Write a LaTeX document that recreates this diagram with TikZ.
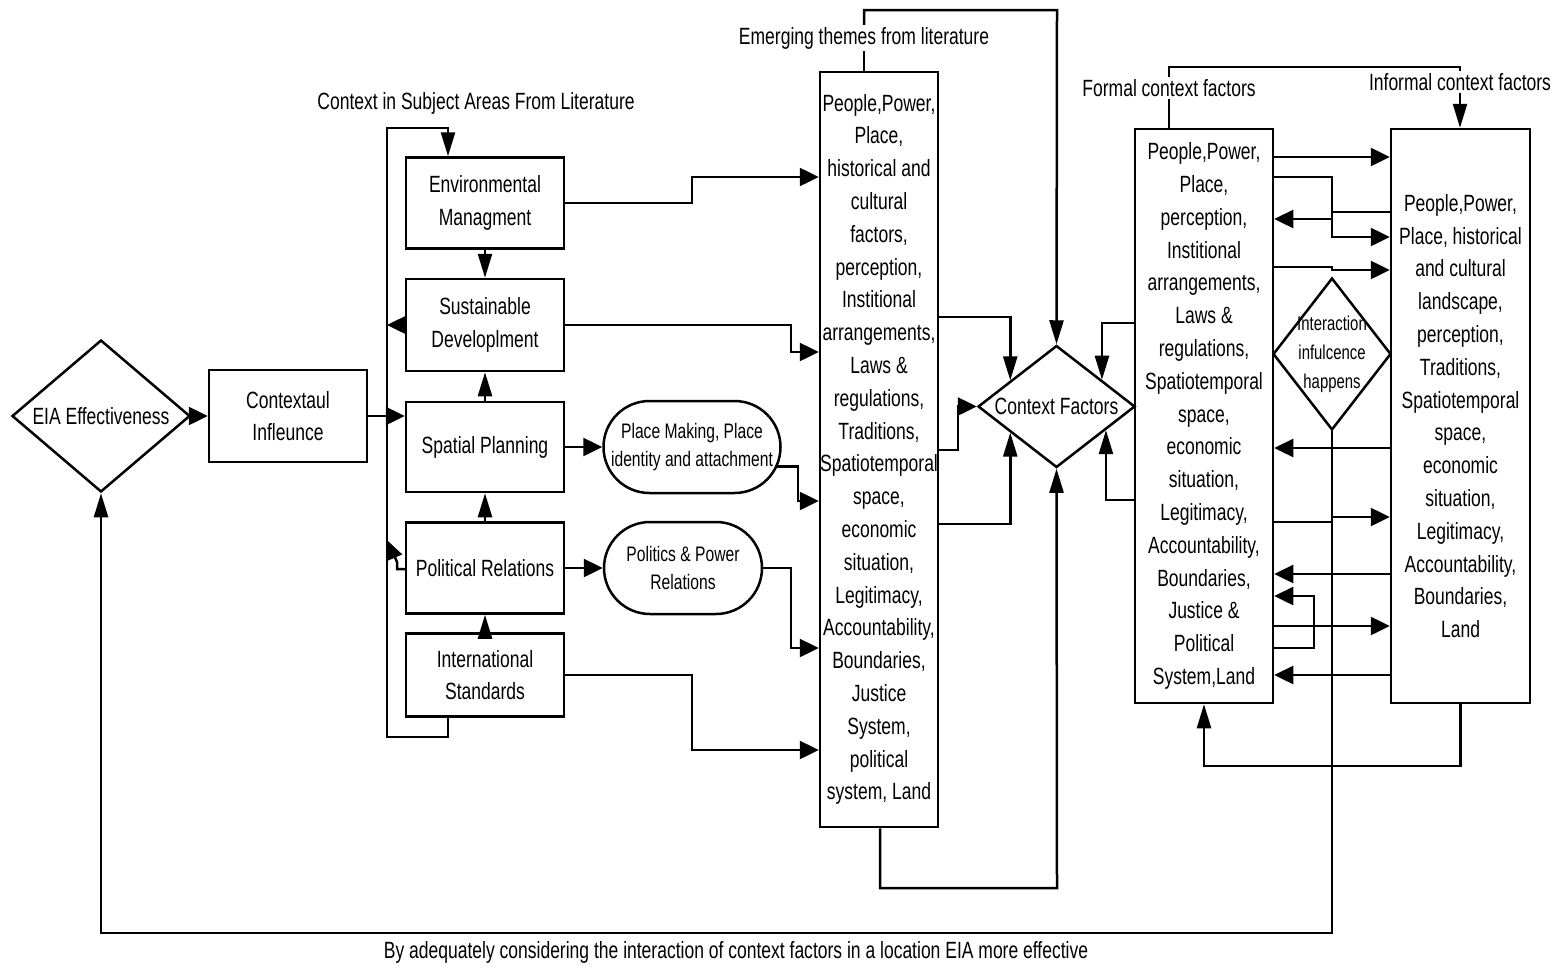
\documentclass[tikz,border=0pt]{standalone}
\usepackage{fontspec}
\setmainfont{Liberation Sans}[FakeStretch=0.745]
\usetikzlibrary{arrows.meta,shapes.geometric,shapes.misc,calc}
\newcommand\fmain{\fontsize{23.5pt}{32.8pt}\selectfont}
\newcommand\fsmall{\fontsize{21pt}{28pt}\selectfont}
\newcommand\fint{\fontsize{20pt}{29pt}\selectfont}
\begin{document}
\begin{tikzpicture}[x=1pt,y=-1pt,
  every node/.style={font=\fmain},
  box/.style={draw,line width=2.5pt,align=center,inner xsep=0pt,inner ysep=2pt},
  pill/.style={draw,line width=2.5pt,rounded rectangle,inner sep=0pt},
  dia/.style={draw,line width=2.5pt,diamond,inner sep=0pt},
  txt/.style={align=center,inner sep=1pt},
  lbl/.style={fill=white,inner sep=2pt},
  ln/.style={line width=2.5pt},
  ah/.style={line width=2.5pt,-{Triangle[length=19pt,width=18pt]}},
  av/.style={line width=2.5pt,-{Triangle[length=24pt,width=14pt]}},
  ad/.style={line width=2.5pt,-{Triangle[length=18pt,width=15pt]}}]
\useasboundingbox (0,0) rectangle (1562,969);
\fill[white] (0,0) rectangle (1562,969);

% ---- left part
\node[dia,minimum width=178pt,minimum height=152pt,label={[txt]center:EIA Effectiveness}] (eia) at (101,416) {};
\node[box,minimum width=158pt,minimum height=92pt] (ctx) at (288,416) {Contextaul\\Infleunce};
\node[box,minimum width=158pt,minimum height=91pt] (em) at (485,203) {Environmental\\Managment};
\node[box,minimum width=158pt,minimum height=92pt] (sd) at (485,325) {Sustainable\\Developlment};
\node[box,minimum width=158pt,minimum height=90pt] (sp) at (485,447) {Spatial Planning};
\node[box,minimum width=158pt,minimum height=91pt] (pr) at (485,568) {Political Relations};
\node[box,minimum width=158pt,minimum height=83pt] (is) at (485,675) {International\\Standards};
\node[pill,minimum width=177pt,minimum height=92pt,label={[txt,font=\fsmall]center:Place Making, Place\\identity and attachment}] (pm) at (692,447) {};
\node[pill,minimum width=158pt,minimum height=92pt,label={[txt,font=\fsmall]center:Politics \& Power\\Relations}] (pp) at (683,568) {};

\node[txt] (t1) at (476,103) {Context in Subject Areas From Literature};
\node[lbl] (t2) at (864,38) {Emerging themes from literature};

% ---- themes box
\node[box,minimum width=118pt,minimum height=755pt] (th) at (879,449.5) {People,Power,\\Place,\\historical and\\cultural\\factors,\\perception,\\Institional\\arrangements,\\Laws \&\\regulations,\\Traditions,\\Spatiotemporal\\space,\\economic\\situation,\\Legitimacy,\\Accountability,\\Boundaries,\\Justice\\System,\\political\\system, Land};

\node[dia,minimum width=157pt,minimum height=122pt,label={[txt]center:Context Factors}] (cf) at (1056.5,406.5) {};

% ---- formal / informal
\node[box,minimum width=138pt,minimum height=574pt] (fo) at (1204,416) {People,Power,\\Place,\\perception,\\Institional\\arrangements,\\Laws \&\\regulations,\\Spatiotemporal\\space,\\economic\\situation,\\Legitimacy,\\Accountability,\\Boundaries,\\Justice \&\\Political\\System,Land};
\node[box,minimum width=139pt,minimum height=574pt] (inf) at (1460.5,416) {People,Power,\\Place, historical\\and cultural\\landscape,\\perception,\\Traditions,\\Spatiotemporal\\space,\\economic\\situation,\\Legitimacy,\\Accountability,\\Boundaries,\\Land};
\node[dia,minimum width=118pt,minimum height=152pt,label={[txt,font=\fint]center:Interaction\\infulcence\\happens}] (ia) at (1332,354) {};

\node[lbl] (t3) at (1169,88) {Formal context factors};
\node[lbl] (t4) at (1460,82) {Informal context factors};
\node[txt] (t5) at (736,952) {By adequately considering the interaction of context factors in a location EIA more effective};

% ---- left connectors
\draw[ah] (eia.east) -- (ctx.west);
\draw[ah] (ctx.east) -- (sp.west |- ctx.east);
\draw[av] (is.south -| 448,0) |- (387,737) |- (448,128) -- (em.north -| 448,0);
\draw[ah] (sd.west) -- (sd.west -| 387,0);
\draw[ad] (pr.west |- 0,569) -- (397,569) -- (397,562) -- (388,541);
\draw[av] (em.south) -- (sd.north);
\draw[av] (sp.north) -- (sd.south);
\draw[av] (pr.north) -- (sp.south);
\draw[av] (is.north) -- (pr.south);
\draw[ah] (sp.east) -- (pm.west);
\draw[ah] (pr.east) -- (pp.west);

% ---- into themes box
\draw[ah] (em.east) -| (692,177) -- (th.west |- 0,177);
\draw[ah] (sd.east) -| (791,352) -- (th.west |- 0,352);
\draw[ah] (pm.-13) -| (798,501) -- (th.west |- 0,501);
\draw[ah] (pp.east) -| (791,648) -- (th.west |- 0,648);
\draw[ah] (is.east) -| (692,750) -- (th.west |- 0,750);

% ---- themes to context factors
\draw[ln] (th.north -| t2) -- (t2.south);
\draw[av] (t2.north) |- (1057,10) -- (cf.north);
\draw[av] (th.south -| 880,0) |- (1057,888) -- (cf.south);
\draw[av] (th.east |- 0,317) -| ($(cf.west)!0.42!(cf.north)$);
\draw[av] (th.east |- 0,524) -| ($(cf.west)!0.42!(cf.south)$);
\draw[ah] (th.east |- 0,450) -- (958,450) |- (cf.west);

% ---- formal to context factors
\draw[av] (fo.west |- 0,323) -| ($(cf.east)!0.43!(cf.north)$);
\draw[av] (fo.west |- 0,500) -| ($(cf.east)!0.38!(cf.south)$);

% ---- formal <-> informal
\draw[ln] (t3.south) -- (fo.north -| t3);
\draw[ln] (t3.north) |- (t4.north |- 0,67) -- (t4.north);
\draw[av] (t4.south) -- (inf.north -| t4);
\draw[ah] (fo.east |- 0,157) -- (inf.west |- 0,157);
\draw[ah] (fo.east |- 0,177) -| (1332,237) -- (inf.west |- 0,237);
\draw[ah] (inf.west |- 0,212) -| (1332,219) -- (fo.east |- 0,219);
\draw[ah] (fo.east |- 0,267) -| (1332,270) -- (inf.west |- 0,270);
\draw[ah] (inf.west |- 0,448) -- (fo.east |- 0,448);
\draw[ah] (fo.east |- 0,522) -| (1332,517) -- (inf.west |- 0,517);
\draw[ah] (inf.west |- 0,574) -- (fo.east |- 0,574);
\draw[ah] (fo.east |- 0,648) -| (1314,596) -- (fo.east |- 0,596);
\draw[ah] (fo.east |- 0,626) -- (inf.west |- 0,626);
\draw[ah] (inf.west |- 0,675) -- (fo.east |- 0,675);
\draw[av] (inf.south) |- (1204,766) -- (fo.south);

% ---- feedback to EIA
\draw[av] (ia.south) |- (101,933) -- (eia.south);
\end{tikzpicture}
\end{document}
